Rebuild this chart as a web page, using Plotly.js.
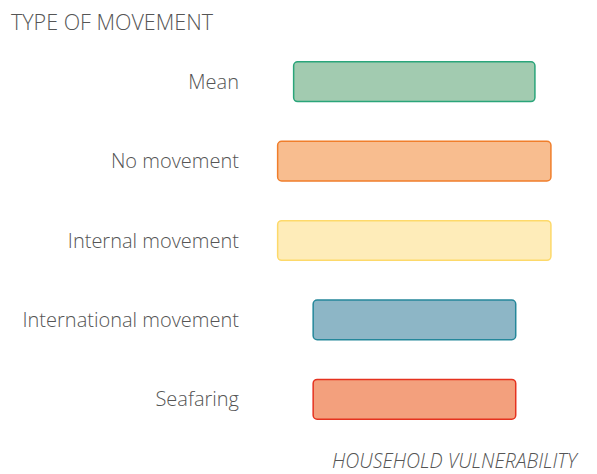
<!DOCTYPE html>
<html>
<head>
<meta charset="utf-8">
<script src="https://cdn.plot.ly/plotly-3.0.1.min.js"></script>
<style>html,body{margin:0;padding:0;background:#fff;}#chart{width:597px;height:474px;}</style>
</head>
<body>
<div id="chart"></div>
<script>
var categories = ["Mean", "No movement", "Internal movement", "International movement", "Seafaring"];
var rangeStart = [12.7, 7.7, 7.7, 18.8, 18.8];
var rangeEnd = [88.1, 93.1, 93.1, 82.1, 82.1];
var fillColors = ["#a2cbb0", "#f8bd8f", "#feecb9", "#8db6c6", "#f3a07d"];
var lineColors = ["#2aa57a", "#f07e2b", "#fdd96a", "#24879a", "#e5321f"];
var xTitle = "HOUSEHOLD VULNERABILITY";
var yTitle = "TYPE OF MOVEMENT";

var widths = rangeEnd.map(function(e, i){ return e - rangeStart[i]; });

var trace = {
  type: "bar",
  orientation: "h",
  y: categories,
  x: widths,
  base: rangeStart,
  marker: {color: fillColors, line: {color: lineColors, width: 1.5}, cornerradius: 4},
  hoverinfo: "none"
};

var fontFam = "'Open Sans', 'Noto Sans', sans-serif";
var layout = {
  width: 597, height: 474,
  margin: {l: 253, r: 24, t: 42, b: 35},
  paper_bgcolor: "#fff", plot_bgcolor: "#fff",
  showlegend: false,
  bargap: 0.5,
  font: {family: fontFam, color: "#555", weight: 300},
  title: {
    text: yTitle,
    font: {family: fontFam, size: 21.5, color: "#555", weight: 300},
    xref: "container", x: 11/597, xanchor: "left",
    yref: "container", y: 1 - 22/474, yanchor: "middle"
  },
  xaxis: {range: [0, 100], showgrid: false, zeroline: false, showticklabels: false, showline: false, ticks: ""},
  yaxis: {
    autorange: "reversed", showgrid: false, zeroline: false, showline: false, ticks: "",
    tickfont: {family: fontFam, size: 20, color: "#555", weight: 300},
    ticklabelstandoff: 13
  },
  annotations: [{
    text: xTitle, showarrow: false, borderpad: 0,
    xref: "paper", x: 1, xanchor: "right", xshift: 7,
    yref: "paper", y: 0, yanchor: "middle", yshift: -21,
    font: {family: fontFam, size: 19.5, color: "#555", style: "italic", weight: 300}
  }]
};

Plotly.newPlot("chart", [trace], layout, {displayModeBar: false, staticPlot: true});
</script>
</body>
</html>
